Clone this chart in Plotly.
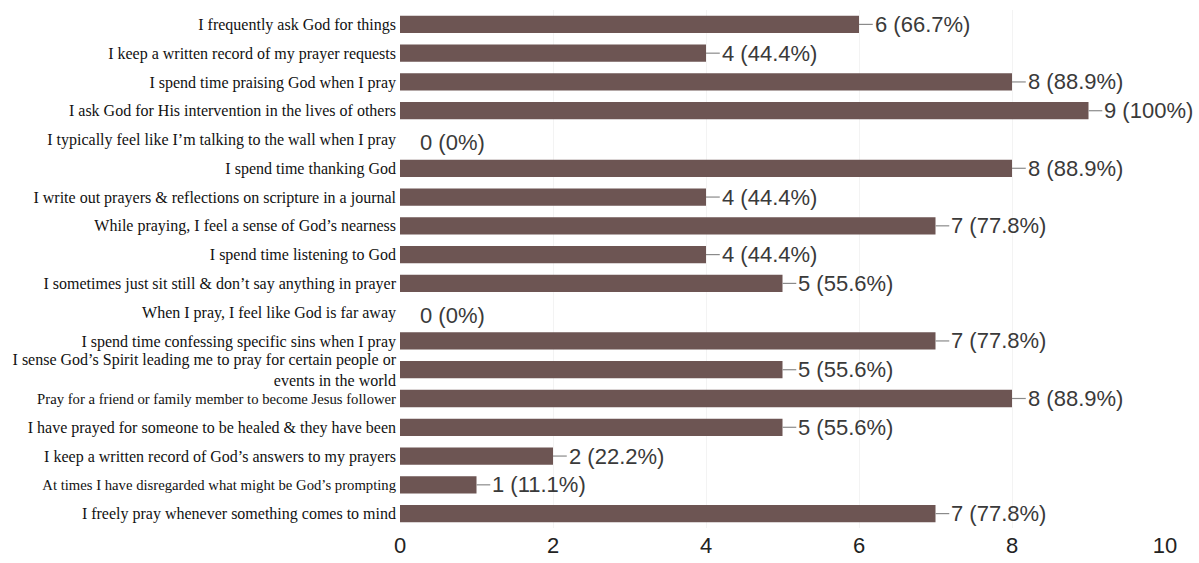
import plotly.graph_objects as go

# Survey statements (top to bottom) and response counts out of 9 respondents
statements = [
    "I frequently ask God for things",
    "I keep a written record of my prayer requests",
    "I spend time praising God when I pray",
    "I ask God for His intervention in the lives of others",
    "I typically feel like I\u2019m talking to the wall when I pray",
    "I spend time thanking God",
    "I write out prayers & reflections on scripture in a journal",
    "While praying, I feel a sense of God\u2019s nearness",
    "I spend time listening to God",
    "I sometimes just sit still & don\u2019t say anything in prayer",
    "When I pray, I feel like God is far away",
    "I spend time confessing specific sins when I pray",
    "I sense God\u2019s Spirit leading me to pray for certain people or<br>events in the world",
    "Pray for a friend or family member to become Jesus follower",
    "I have prayed for someone to be healed & they have been",
    "I keep a written record of God\u2019s answers to my prayers",
    "At times I have disregarded what might be God\u2019s prompting",
    "I freely pray whenever something comes to mind",
]
counts = [6, 4, 8, 9, 0, 8, 4, 7, 4, 5, 0, 7, 5, 8, 5, 2, 1, 7]
percents = ["66.7%", "44.4%", "88.9%", "100%", "0%", "88.9%", "44.4%", "77.8%", "44.4%",
            "55.6%", "0%", "77.8%", "55.6%", "88.9%", "55.6%", "22.2%", "11.1%", "77.8%"]
x_ticks = [0, 2, 4, 6, 8, 10]

# two of the longer statements are set in a slightly smaller size
label_sizes = [16, 16, 16, 16, 16, 16, 16, 16, 16, 16, 16, 16, 16, 14.7, 16, 16, 14.7, 16]

BAR = "#6d5553"
rows = list(range(len(statements)))
tick_text = [f'<span style="font-size:{s}px">{t}</span>' if s != 16 else t
             for t, s in zip(statements, label_sizes)]

fig = go.Figure(go.Bar(
    x=counts, y=rows, orientation="h",
    marker=dict(color=BAR, line=dict(width=0)),
    width=0.6, hoverinfo="skip",
))

LEAD = 0.18  # length of the leader stroke, in axis units
VAL_FONT = dict(family="Liberation Sans, Arial", size=22, color="#3a3a3a")
for i, (c, p) in enumerate(zip(counts, percents)):
    label = f"{c} ({p})"
    if c > 0:
        fig.add_shape(type="line", xref="x", yref="y", x0=c, x1=c + LEAD, y0=i, y1=i,
                      line=dict(color="#8a8a8a", width=1.2))
        fig.add_annotation(x=c + LEAD, y=i, text=label, showarrow=False, xanchor="left",
                           yanchor="middle", xshift=0, font=VAL_FONT)
    else:
        fig.add_annotation(x=0, y=i, text=label, showarrow=False, xanchor="left",
                           yanchor="middle", xshift=18, yshift=-3, font=VAL_FONT)

fig.update_layout(
    width=1199, height=563,
    margin=dict(l=400, r=34, t=10, b=35),
    paper_bgcolor="white", plot_bgcolor="white",
    showlegend=False,
    xaxis=dict(range=[0, 10], tickvals=x_ticks, ticktext=[str(t) for t in x_ticks],
               showgrid=True, gridcolor="#f3f3f3", zeroline=False, showline=False,
               tickfont=dict(family="Liberation Sans, Arial", size=22, color="#222"),
               ticks="", ticklabelstandoff=2, automargin=False),
    yaxis=dict(range=[17.5, -0.5], tickvals=rows, ticktext=tick_text,
               showgrid=False, zeroline=False, showline=False, ticks="",
               tickfont=dict(family="Liberation Serif, Times New Roman", size=16, color="#111"),
               ticklabelstandoff=3, automargin=False),
)

fig.write_html("out.html")
